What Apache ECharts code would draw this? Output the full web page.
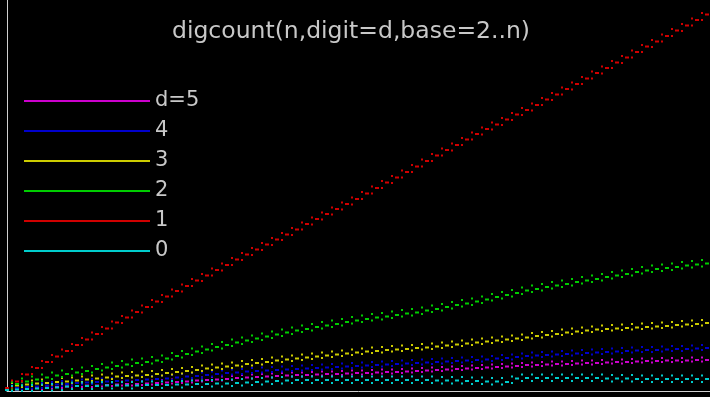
<!DOCTYPE html>
<html><head><meta charset="utf-8">
<script src="https://cdn.jsdelivr.net/npm/echarts@6/dist/echarts.min.js"></script>
<style>html,body{margin:0;padding:0;background:#000}#c{width:710px;height:397px}</style>
</head><body><div id="c"></div>
<script>
// n positions of the band readings
const xCore = [0,20,40,60,80,100,120,140,160,180,200,220,240,260,280,300,320,340,360,380,400,420,440,460,480,500,520,540,560,580,600,620,640,660,680,700,720,740,760,780,800,820,840,860,880,900,920,940,960,980,1000,1020,1040,1060,1080,1100,1120,1140,1160,1180,1200,1220,1240,1260,1280,1300,1320,1340,1360,1380,1400];
const xEdge = [10,30,50,70,90,110,130,150,170,190,210,230,250,270,290,310,330,350,370,390,410,430,450,470,490,510,530,550,570,590,610,630,650,670,690,710,730,750,770,790,810,830,850,870,890,910,930,950,970,990,1010,1030,1050,1070,1090,1110,1130,1150,1170,1190,1210,1230,1250,1270,1290,1310,1330,1350,1370,1390];

const seriesNames = ['d=5','4','3','2','1','0'];
const seriesColors = ['#cc00cc','#0000cc','#cccc00','#00cc00','#d00000','#00cccc'];

// digit 5
const d5Core = [2,3,4,6,7,8,9,10,11,11,12,13,14,14,15,16,17,18,19,21,22,23,24,26,27,28,29,30,31,32,32,33,34,34,35,36,36,37,38,38,39,40,41,42,43,44,45,46,47,48,49,50,52,52,53,54,54,55,56,56,57,58,58,59,60,60,61,61,61,62,62];
const d5Hi = [8,9,10,12,13,14,15,16,16,17,18,19,19,20,21,22,23,24,25,27,28,29,30,32,33,34,35,36,37,37,38,39,39,40,41,41,42,43,43,44,45,46,47,48,49,50,51,52,53,54,55,56,57,58,59,59,60,61,61,62,63,63,64,65,65,66,66,66,67,67];
const d5Lo = [0,1,2,4,5,6,7,8,8,9,10,11,11,12,13,14,15,16,17,19,20,21,22,24,25,26,27,28,29,29,30,31,31,32,33,33,34,35,35,36,37,38,39,40,41,42,43,44,45,46,47,48,49,50,51,51,52,53,53,54,55,55,56,57,57,58,58,58,59,59];
// digit 4
const d4Core = [4,6,8,9,11,13,14,16,17,18,19,20,21,22,23,24,25,27,29,30,32,34,36,37,39,40,41,42,43,44,45,46,47,48,49,50,51,52,53,54,55,56,57,58,59,60,61,62,63,65,66,68,70,71,72,73,74,75,76,77,78,79,80,81,82,82,83,84,84,85,86];
const d4Hi = [11,13,15,16,18,20,21,23,24,25,26,27,28,29,30,31,32,34,36,37,39,41,43,44,46,47,48,49,50,51,52,53,54,55,56,57,58,59,60,61,62,63,64,65,66,67,68,69,70,72,73,75,77,78,79,80,81,82,83,84,85,86,87,88,88,89,90,90,91,92];
const d4Lo = [1,3,5,6,8,10,11,13,14,15,16,17,18,19,20,21,22,24,26,27,29,31,33,34,36,37,38,39,40,41,42,43,44,45,46,47,48,49,50,51,52,53,54,55,56,57,58,59,60,62,63,65,67,68,69,70,71,72,73,74,75,76,77,78,78,79,80,80,81,82];
// digit 3
const d3Core = [6,11,13,15,16,18,19,21,23,25,27,29,30,31,32,34,36,38,40,42,45,47,49,51,54,56,58,61,63,65,67,69,71,73,75,77,79,80,82,83,84,86,87,89,91,93,95,97,99,101,103,105,107,110,112,114,117,119,121,123,124,125,126,127,128,129,130,132,133,134,136];
const d3Hi = [16,19,21,23,24,26,27,29,31,33,35,37,38,39,40,42,44,46,48,51,53,55,57,60,62,64,67,69,71,73,75,77,79,81,83,85,87,88,90,91,92,94,95,97,99,101,103,105,107,109,111,113,116,118,120,123,125,127,129,131,132,133,134,135,136,137,138,140,141,142];
const d3Lo = [5,8,10,12,13,15,16,18,20,22,24,26,27,28,29,31,33,35,37,40,42,44,46,49,51,53,56,58,60,62,64,66,68,70,72,74,76,77,79,80,81,83,84,86,88,90,92,94,96,98,100,102,105,107,109,112,114,116,118,120,121,122,123,124,125,126,127,129,130,131];
// digit 2
const d2Core = [6,14,19,23,27,31,34,37,40,44,47,50,53,56,58,61,65,70,74,79,83,88,92,97,101,105,109,113,117,121,124,128,131,134,138,141,144,147,149,152,155,157,161,164,168,172,175,179,183,188,192,196,201,204,208,211,214,218,221,224,228,231,234,238,241,244,246,248,251,253,255];
const d2Hi = [18,25,29,33,37,41,44,47,50,54,57,60,63,65,68,71,76,80,85,89,94,98,103,107,111,115,119,123,127,131,134,138,141,144,148,151,154,156,159,162,164,167,171,174,178,182,185,189,194,198,202,207,211,214,218,221,224,228,231,234,238,241,244,248,251,253,255,258,260,262];
const d2Lo = [5,12,16,20,24,28,31,34,37,41,44,47,50,52,55,58,63,67,72,76,81,85,90,94,98,102,106,110,114,118,121,125,128,131,135,138,141,143,146,149,151,154,158,161,165,169,172,176,181,185,189,194,198,201,205,208,211,215,218,221,225,228,231,235,238,240,242,245,247,249];
// digit 1
const d1Core = [6,19,33,46,58,69,80,92,103,114,125,137,147,158,168,179,189,200,210,221,231,242,252,263,273,283,293,303,313,323,334,344,354,364,374,384,395,406,417,427,438,449,460,471,482,492,503,514,524,533,543,553,562,572,583,593,604,614,625,636,646,657,667,678,689,699,710,721,731,742,753];
const d1Hi = [21,34,48,60,72,83,94,106,117,128,139,150,161,171,182,192,203,213,224,234,245,255,266,276,286,296,306,316,326,337,347,357,367,377,387,398,409,420,430,441,452,463,474,485,495,506,517,527,537,546,556,566,575,586,596,607,617,628,639,649,660,670,681,692,702,713,724,734,745,756];
const d1Lo = [7,20,34,46,58,69,80,92,103,114,125,136,147,157,168,178,189,199,210,220,231,241,252,262,272,282,292,302,312,323,333,343,353,363,373,384,395,406,416,427,438,449,460,471,481,492,503,513,523,532,542,552,561,572,582,593,603,614,625,635,646,656,667,678,688,699,710,720,731,742];
// digit 0
const d0Core = [2,3,4,5,6,7,9,10,10,10,11,11,11,11,12,12,12,13,13,14,14,15,15,16,17,18,19,20,21,22,22,22,22,22,22,22,22,22,22,22,22,22,22,21,21,21,20,20,19,19,18,25,26,26,26,26,26,26,26,26,25,25,25,24,24,24,24,24,24,24,24];
const d0Hi = [10,11,12,13,14,15,17,17,17,18,18,18,18,19,19,19,20,20,21,21,22,22,23,24,25,26,27,28,29,29,29,29,29,29,29,29,29,29,29,29,29,29,29,28,28,28,27,27,26,26,29,33,33,33,33,33,33,33,33,33,32,32,32,31,31,31,31,31,31,31];
const d0Lo = [0,0,0,0,1,2,4,4,4,5,5,5,5,6,6,6,7,7,8,8,9,9,10,11,12,13,14,15,16,16,16,16,16,16,16,16,16,16,16,16,16,16,16,15,15,15,14,14,13,13,16,20,20,20,20,20,20,20,20,20,19,19,19,18,18,18,18,18,18,18];

const bands = [
  [d5Core, d5Hi, d5Lo],
  [d4Core, d4Hi, d4Lo],
  [d3Core, d3Hi, d3Lo],
  [d2Core, d2Hi, d2Lo],
  [d1Core, d1Hi, d1Lo],
  [d0Core, d0Hi, d0Lo]
];

function pairs(xs, ys) { return ys.map((y, i) => [xs[i], y]); }

const series = [];
bands.forEach((b, i) => {
  series.push({
    name: seriesNames[i], type: 'scatter', symbol: 'rect', symbolSize: [4, 2], silent: true,
    itemStyle: { color: seriesColors[i], opacity: 1 },
    data: pairs(xCore, b[0])
  });
  series.push({
    name: seriesNames[i], type: 'scatter', symbol: 'rect', symbolSize: 2, silent: true,
    itemStyle: { color: seriesColors[i], opacity: 1 },
    data: pairs(xEdge, b[1]).concat(pairs(xEdge, b[2]))
  });
});

const chart = echarts.init(document.getElementById('c'), null, { renderer: 'canvas' });
chart.setOption({
  backgroundColor: '#000',
  animation: false,
  title: {
    text: 'digcount(n,digit=d,base=2..n)',
    left: 351, top: 20, textAlign: 'center', padding: 0,
    textStyle: { color: '#c8c8c8', fontSize: 23.5, fontWeight: 'normal', fontFamily: 'DejaVu Sans' }
  },
  legend: {
    orient: 'vertical', left: 24, top: 86, padding: 0,
    icon: 'rect', itemWidth: 126, itemHeight: 2, itemGap: 0,
    selectedMode: false,
    data: seriesNames,
    textStyle: { color: '#c8c8c8', fontSize: 21, fontFamily: 'DejaVu Sans', lineHeight: 30 }
  },
  grid: { left: 7, right: 0, top: 0, bottom: 6 },
  xAxis: {
    type: 'value', min: 0, max: 1406,
    axisLine: { show: true, onZero: false, lineStyle: { color: '#d0d0d0', width: 1 } },
    axisTick: { show: false }, axisLabel: { show: false }, splitLine: { show: false }
  },
  yAxis: {
    type: 'value', min: 0, max: 782,
    axisLine: { show: true, onZero: false, lineStyle: { color: '#d0d0d0', width: 1 } },
    axisTick: { show: false }, axisLabel: { show: false }, splitLine: { show: false }
  },
  series: series
});
</script>
</body></html>
